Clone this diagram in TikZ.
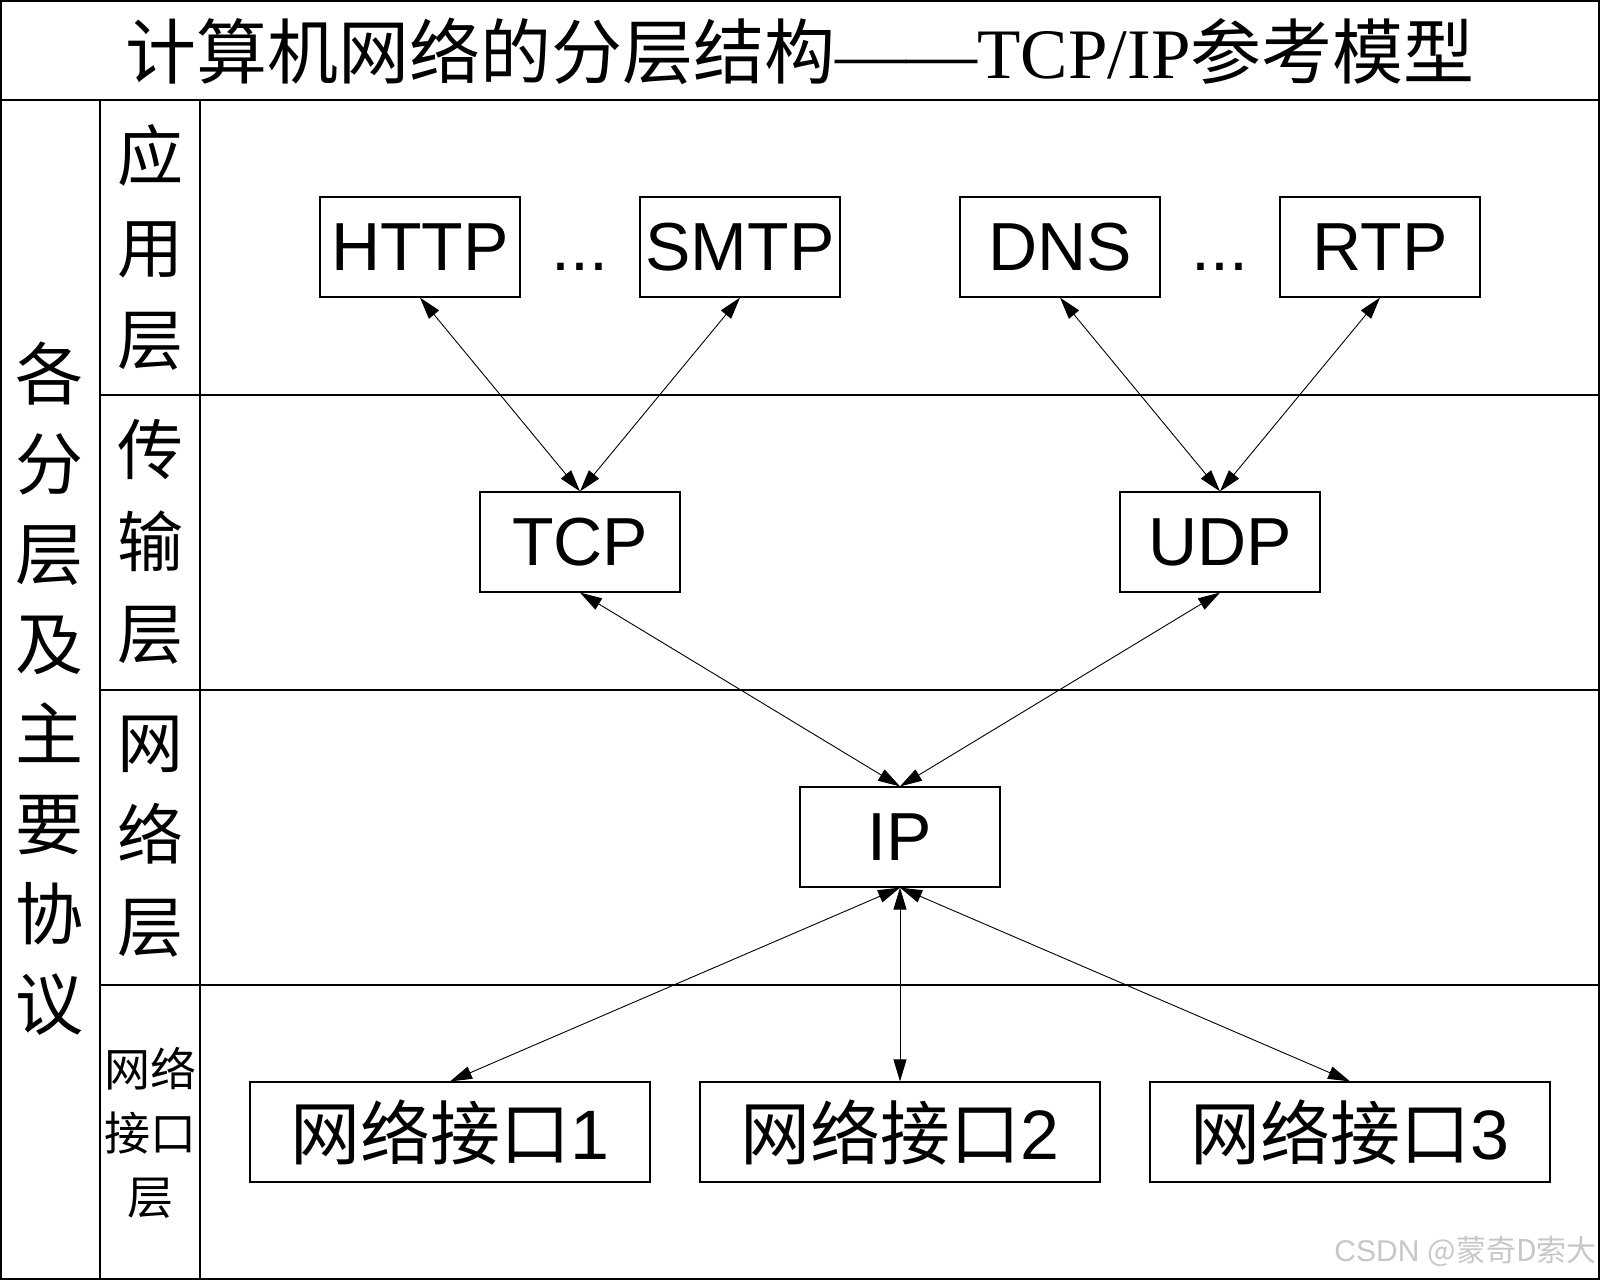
\documentclass[tikz,border=0pt]{standalone}
\usepackage{fontspec}
\setmainfont{Liberation Sans}
\newfontfamily\cjk{Noto Sans CJK SC}
\newfontfamily\serif{Liberation Serif}
\usetikzlibrary{arrows.meta,positioning}

\begin{document}
\begin{tikzpicture}[x=1pt,y=-1pt]
  \tikzstyle{proto}=[draw=black,line width=1.2pt,minimum width=200pt,minimum height=100pt,inner sep=0pt,font=\fontsize{68}{68}\selectfont]
  \tikzstyle{iface}=[proto,minimum width=400pt,font=\fontsize{70}{70}\selectfont]
  \tikzstyle{layer}=[align=center,inner sep=0pt,font=\cjk\fontsize{66}{92}\selectfont]
  \tikzstyle{link}=[{Triangle[length=22pt,width=13pt]}-{Triangle[length=22pt,width=13pt]},line width=0.9pt]
  \useasboundingbox (0,0) rectangle (1600,1280);
  % table
  \draw[line width=1.5pt] (1,1) rectangle (1599,1279);
  \draw[line width=1.5pt] (0,100) -- (1600,100);
  \draw[line width=1.5pt] (100,100) -- (100,1280);
  \draw[line width=1.5pt] (200,100) -- (200,1280);
  \foreach \y in {395,690,985}
    \draw[line width=1.2pt] (100,\y) -- (1600,\y);
  \node[font=\fontsize{71}{71}\selectfont] (title) at (800,51)
    {{\cjk 计算机网络的分层结构}{\serif ——TCP/IP}{\cjk 参考模型}};
  \node[layer,font=\cjk\fontsize{68}{90}\selectfont] (all) at (50,689)
    {各\\分\\层\\及\\主\\要\\协\\议};
  \node[layer] (app) at (150,247) {应\\用\\层};
  \node[layer] (trans) at (150,542) {传\\输\\层};
  \node[layer] (net) at (150,837) {网\\络\\层};
  \node[layer,font=\cjk\fontsize{46}{64}\selectfont] (link) at (150,1133) {网络\\接口\\层};
  % protocols
  \foreach \name/\x in {HTTP/420, SMTP/740, DNS/1060, RTP/1380}
    \node[proto] (\name) at (\x,247) {\name};
  \node[inner sep=0pt,font=\fontsize{68}{68}\selectfont] (dots1) at (580,247) {\vphantom{HTTP}...};
  \node[inner sep=0pt,font=\fontsize{68}{68}\selectfont] (dots2) at (1220,247) {\vphantom{HTTP}...};
  \node[proto] (TCP) at (580,542) {TCP};
  \node[proto] (UDP) at (1220,542) {UDP};
  \node[proto] (IP) at (900,837) {IP};
  \foreach \i/\x in {1/450, 2/900, 3/1350}
    \node[iface] (nic\i) at (\x,1132) {{\cjk 网络接口}\i};
  \foreach \from/\to in {HTTP/TCP, SMTP/TCP, DNS/UDP, RTP/UDP, TCP/IP, UDP/IP}
    \draw[link] (\from.south) -- (\to.north);
  \foreach \to in {nic1,nic2,nic3}
    \draw[link] (IP.south) -- (\to.north);
  \node[anchor=east,inner sep=0pt,text=black!22,font=\fontsize{30}{30}\selectfont] (mark) at (1597,1251)
    {CSDN {\cjk @蒙奇D索大}};
\end{tikzpicture}
\end{document}
